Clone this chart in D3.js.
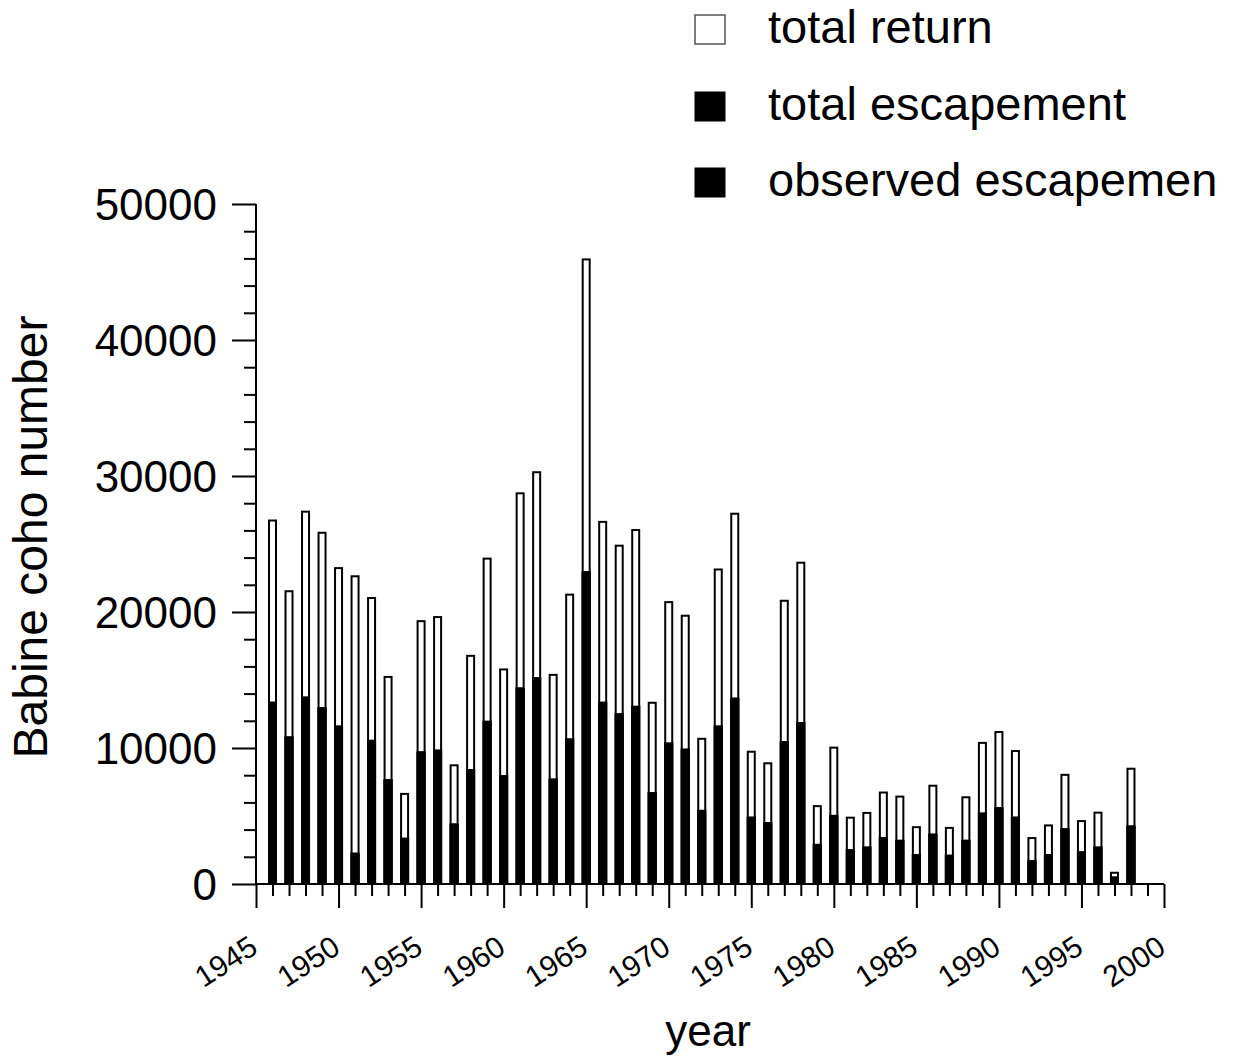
<!DOCTYPE html>
<html>
<head>
<meta charset="utf-8">
<script src="https://cdn.jsdelivr.net/npm/d3@7"></script>
<style>
  html, body { margin: 0; padding: 0; background: #fff; }
  svg { display: block; font-family: "Liberation Sans", Arial, sans-serif; }
</style>
</head>
<body>
<svg id="chart" width="1242" height="1061"></svg>
<script>
// ---- data ----
const years = [1946,1947,1948,1949,1950,1951,1952,1953,1954,1955,1956,1957,1958,1959,1960,
  1961,1962,1963,1964,1965,1966,1967,1968,1969,1970,1971,1972,1973,1974,1975,1976,1977,1978,
  1979,1980,1981,1982,1983,1984,1985,1986,1987,1988,1989,1990,1991,1992,1993,1994,1995,1996,1997,1998];
const totalReturn = [26800,21600,27450,25900,23300,22700,21100,15300,6700,19400,19700,8800,16850,24000,15850,
  28800,30350,15450,21350,46000,26700,24950,26100,13400,20800,19800,10750,23200,27300,9800,8950,20900,23700,
  5800,10100,4950,5300,6800,6500,4250,7300,4200,6450,10450,11250,9850,3450,4380,8100,4700,5320,900,8550];
const totalEscapement = [13400,10850,13780,13000,11650,2300,10600,7700,3400,9750,9880,4450,8450,12000,8000,
  14450,15200,7750,10700,23000,13400,12550,13100,6750,10400,9950,5450,11650,13700,4950,4550,10500,11900,
  2950,5080,2550,2750,3450,3250,2200,3700,2150,3250,5250,5650,4950,1750,2200,4100,2400,2750,550,4300];
const observedEscapement = [13400,10850,13780,13000,11650,2300,10600,7700,3400,9750,9880,4450,8450,12000,8000,
  14450,15200,7750,10700,23000,13400,12550,13100,6750,10400,9950,5450,11650,13700,4950,4550,10500,11900,
  2950,5080,2550,2750,3450,3250,2200,3700,2150,3250,5250,5650,4950,1750,2200,4100,2400,2750,550,4300];
const yTickLabels = [0,10000,20000,30000,40000,50000];
const xTickLabels = [1945,1950,1955,1960,1965,1970,1975,1980,1985,1990,1995,2000];
const seriesNames = ["total return","total escapement","observed escapemen"];

// ---- layout ----
const svg = d3.select("#chart");
const mLeft = 256, mRight = 1164, mTop = 204, mBottom = 884;
const x = d3.scaleLinear().domain([1945, 2000]).range([mLeft, mRight]);
const y = d3.scaleLinear().domain([0, 50000]).range([mBottom, mTop]);

svg.append("rect").attr("width",1242).attr("height",1061).attr("fill","#fff");

const barW = 7;
const rows = years.map((yr,i)=>({yr, tot: totalReturn[i], esc: totalEscapement[i], obs: observedEscapement[i]}));

// total return (white)
svg.append("g").selectAll("rect").data(rows).join("rect")
  .attr("x", d => x(d.yr) - barW/2)
  .attr("y", d => y(d.tot) + 1)
  .attr("width", barW)
  .attr("height", d => y(0) - y(d.tot) - 1)
  .attr("fill", "#fff").attr("stroke", "#000").attr("stroke-width", 2);

// total escapement (black)
svg.append("g").selectAll("rect").data(rows).join("rect")
  .attr("x", d => x(d.yr) - barW/2)
  .attr("y", d => y(d.esc) + 1)
  .attr("width", barW)
  .attr("height", d => y(0) - y(d.esc) - 1)
  .attr("fill", "#000").attr("stroke", "#000").attr("stroke-width", 2);

// observed escapement (black)
svg.append("g").selectAll("rect").data(rows).join("rect")
  .attr("x", d => x(d.yr) - barW/2)
  .attr("y", d => y(d.obs) + 1)
  .attr("width", barW)
  .attr("height", d => y(0) - y(d.obs) - 1)
  .attr("fill", "#000").attr("stroke", "#000").attr("stroke-width", 2);

// ---- y axis ----
const yMinor = d3.range(0, 50001, 2000).filter(v => v % 10000 !== 0);
const yAxisMajor = d3.axisLeft(y).tickValues(yTickLabels).tickSize(24).tickPadding(15).tickFormat(d3.format("d"));
const gy = svg.append("g").attr("transform", `translate(${mLeft},0)`).call(yAxisMajor);
gy.select(".domain").attr("stroke-width", 2).attr("d", `M0,${mBottom}V${mTop}`);
gy.selectAll(".tick line").attr("stroke-width", 2);
gy.selectAll(".tick text").attr("font-size", 44).attr("font-family", "Liberation Sans, Arial, sans-serif").attr("fill","#000").attr("dy","0.36em");
const gyMinor = svg.append("g").attr("transform", `translate(${mLeft},0)`)
  .call(d3.axisLeft(y).tickValues(yMinor).tickSize(12).tickFormat(""));
gyMinor.select(".domain").remove();
gyMinor.selectAll(".tick line").attr("stroke-width", 2);

// ---- x axis ----
const xMinor = d3.range(1945, 2001).filter(v => v % 5 !== 0);
const gx = svg.append("g").attr("transform", `translate(0,${mBottom})`)
  .call(d3.axisBottom(x).tickValues(xTickLabels).tickSize(24).tickFormat(d3.format("d")));
gx.select(".domain").attr("stroke-width", 2).attr("d", `M${mLeft},0H${mRight}`);
gx.selectAll(".tick line").attr("stroke-width", 2);
gx.selectAll(".tick text")
  .attr("font-size", 30).attr("font-family", "Liberation Sans, Arial, sans-serif").attr("fill","#000")
  .attr("text-anchor", "end").attr("dy", null)
  .attr("transform", "translate(3,68) rotate(-33)").attr("y", 0).attr("x", 0);
const gxMinor = svg.append("g").attr("transform", `translate(0,${mBottom})`)
  .call(d3.axisBottom(x).tickValues(xMinor).tickSize(12).tickFormat(""));
gxMinor.select(".domain").remove();
gxMinor.selectAll(".tick line").attr("stroke-width", 2);

// ---- axis titles ----
svg.append("text").attr("transform", "translate(47,537) rotate(-90)")
  .attr("text-anchor", "middle").attr("font-size", 48).attr("fill","#000").text("Babine coho number");
svg.append("text").attr("x", 708).attr("y", 1046)
  .attr("text-anchor", "middle").attr("font-size", 44).attr("fill","#000").text("year");

// ---- legend ----
const legendFill = ["#fff", "#000", "#000"];
const legendY = [43, 120, 196];
const lg = svg.append("g");
seriesNames.forEach((name, i) => {
  lg.append("rect").attr("x", 695).attr("y", legendY[i] - 28).attr("width", 30).attr("height", 29)
    .attr("fill", legendFill[i]).attr("stroke", i === 0 ? "#555" : "#000").attr("stroke-width", i === 0 ? 1.5 : 1);
  lg.append("text").attr("x", 768).attr("y", legendY[i]).attr("font-size", 47).attr("fill","#000").text(name);
});
</script>
</body>
</html>
